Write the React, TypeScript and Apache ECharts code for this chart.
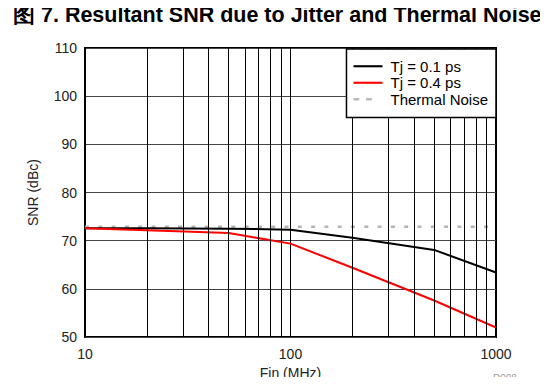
import React, { useEffect, useRef } from "react";
import * as echarts from "echarts";

const freqs = [10, 20, 50, 100, 200, 500, 1000];
const snrTj01 = [72.6, 72.6, 72.5, 72.3, 70.6, 68.1, 63.4];
const snrTj04 = [72.6, 72.2, 71.6, 69.4, 64.4, 57.6, 52.0];
const thermalFreqs = [10, 1000];
const thermalNoise = [72.9, 72.9];
const minorGridFreqs = [20, 30, 40, 50, 60, 70, 80, 90, 200, 300, 400, 500, 600, 700, 800, 900];
const seriesNames = ["Tj = 0.1 ps", "Tj = 0.4 ps", "Thermal Noise"];

const FONT = "'Liberation Sans', Arial, sans-serif";

export default function App() {
  const ref = useRef<HTMLDivElement>(null);
  useEffect(() => {
    if (!ref.current) return;
    const chart = echarts.init(ref.current, null, { renderer: "svg" });
    const pair = (xs: number[], ys: number[]) => xs.map((x, i) => [x, ys[i]]);
    chart.setOption({
      animation: false,
      textStyle: { fontFamily: FONT },
      title: {
        text: "图 7. Resultant SNR due to Jitter and Thermal Noise",
        left: 13,
        top: 4,
        padding: 0,
        textStyle: { fontFamily: FONT, fontSize: 21.5, fontWeight: "bold", color: "#000" },
      },
      graphic: [
        {
          type: "text",
          left: 493,
          top: 373,
          z: 10,
          style: { text: "D008", fontSize: 10, fill: "#9a9a9a", fontFamily: FONT },
        },
      ],
      grid: {
        left: 85,
        right: 52,
        top: 48,
        bottom: 46,
        show: true,
        borderColor: "#000",
        borderWidth: 2,
        backgroundColor: "transparent",
      },
      legend: {
        right: 52,
        top: 49,
        z: 20,
        orient: "vertical",
        align: "left",
        backgroundColor: "#fff",
        borderColor: "#000",
        borderWidth: 1.5,
        borderRadius: 0,
        padding: [9, 8, 10, 7],
        itemGap: 0,
        itemWidth: 29,
        itemHeight: 14,
        data: [
          { name: seriesNames[0], icon: "path://M0,0H30V2.2H0Z", itemStyle: { color: "#000" } },
          { name: seriesNames[1], icon: "path://M0,0H30V2.2H0Z", itemStyle: { color: "#f00" } },
          {
            name: seriesNames[2],
            icon: "path://M0,0H6V2.4H0Z M13,0H19V2.4H13Z M29.9,0H30V2.4H29.9Z",
            itemStyle: { color: "#bbb" },
          },
        ],
        textStyle: {
          fontFamily: FONT,
          fontSize: 15,
          lineHeight: 16.5,
          color: "#000",
          padding: [0, 0, 0, 3],
        },
      },
      xAxis: {
        type: "log",
        logBase: 10,
        min: 10,
        max: 1000,
        name: "Fin (MHz)",
        nameLocation: "middle",
        nameGap: 19,
        nameTextStyle: { fontFamily: FONT, fontSize: 14, color: "#222" },
        axisLine: { show: false },
        axisTick: { show: false },
        axisLabel: {
          fontFamily: FONT,
          fontSize: 14,
          color: "#222",
          margin: 10,
          formatter: (v: number) => String(v),
        },
        splitLine: { show: true, lineStyle: { color: "#000", width: 1 } },
      },
      yAxis: {
        type: "value",
        min: 50,
        max: 110,
        interval: 10,
        name: "SNR (dBc)",
        nameLocation: "middle",
        nameGap: 45,
        nameTextStyle: { fontFamily: FONT, fontSize: 14, color: "#222" },
        axisLine: { show: false },
        axisTick: { show: false },
        axisLabel: { fontFamily: FONT, fontSize: 14, color: "#222", margin: 8 },
        splitLine: { show: true, lineStyle: { color: "#444", width: 1 } },
      },
      series: [
        {
          name: "grid-minor",
          type: "line",
          data: [],
          silent: true,
          z: 1,
          markLine: {
            silent: true,
            symbol: "none",
            label: { show: false },
            lineStyle: { color: "#000", width: 1, type: "solid" },
            data: minorGridFreqs.map((f) => ({ xAxis: f })),
          },
        },
        {
          name: seriesNames[2],
          type: "line",
          data: pair(thermalFreqs, thermalNoise),
          symbol: "none",
          lineStyle: { color: "#b4b4b4", width: 2.5, type: [4, 9.3] },
          itemStyle: { color: "#b4b4b4" },
          z: 2,
        },
        {
          name: seriesNames[0],
          type: "line",
          data: pair(freqs, snrTj01),
          symbol: "none",
          lineStyle: { color: "#000", width: 2 },
          itemStyle: { color: "#000" },
          z: 3,
        },
        {
          name: seriesNames[1],
          type: "line",
          data: pair(freqs, snrTj04),
          symbol: "none",
          lineStyle: { color: "#f00", width: 2 },
          itemStyle: { color: "#f00" },
          z: 3,
        },
      ],
    });
    return () => chart.dispose();
  }, []);
  return <div ref={ref} style={{ width: 548, height: 385, margin: -8 }} />;
}
